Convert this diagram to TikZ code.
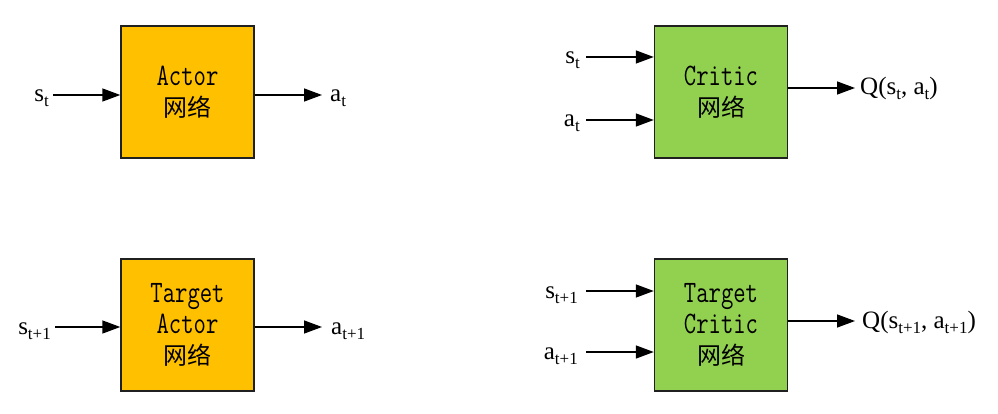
\documentclass[tikz,border=0pt]{standalone}
\usepackage{fontspec}
\usepackage{graphicx}
\setmainfont{Liberation Serif}
\newfontfamily\cjkfont{Noto Sans CJK SC}
\usetikzlibrary{arrows.meta}
\definecolor{actorfill}{HTML}{FFC000}
\definecolor{criticfill}{HTML}{92D050}
\definecolor{boxline}{HTML}{202020}
\newcommand\sbs[1]{\raisebox{-5pt}{\fontsize{17}{17}\selectfont #1}}
\newcommand\netlbl[1]{\scalebox{1}[1.3]{\ttfamily #1}}
\newcommand\cn[1]{{\cjkfont #1}}
\tikzset{
  netbox/.style={draw=boxline, line width=1.4pt, minimum width=133pt, minimum height=132pt,
    inner sep=0pt, align=center, font=\fontsize{24}{31}\selectfont},
  arr/.style={line width=1.4pt, -{Triangle[length=18pt,width=13pt]}},
  lblin/.style={anchor=base east, inner sep=0pt, font=\fontsize{25}{25}\selectfont},
  lblout/.style={anchor=base west, inner sep=0pt, font=\fontsize{25}{25}\selectfont},
}
\begin{document}
\begin{tikzpicture}[x=1pt,y=-1pt]
\useasboundingbox (0,0) rectangle (998,414);
% boxes
\node[netbox, fill=actorfill] (actor) at (187.5,92) {\netlbl{Actor}\\\cn{网络}};
\node[netbox, fill=actorfill] (tactor) at (187.5,325) {\netlbl{Target}\\\netlbl{Actor}\\\cn{网络}};
\node[netbox, fill=criticfill] (critic) at (721,92) {\netlbl{Critic}\\\cn{网络}};
\node[netbox, fill=criticfill] (tcritic) at (721,325) {\netlbl{Target}\\\netlbl{Critic}\\\cn{网络}};
% actor
\coordinate (a1in) at (53,95);
\coordinate (a1out) at (322,95);
\node[lblin] (a1s) at (49,102) {s\sbs{t}};
\draw[arr] (a1in) -- (actor.west |- a1in);
\draw[arr] (actor.east |- a1out) -- (a1out);
\node[lblout] (a1a) at (330,102) {a\sbs{t}};
% target actor
\coordinate (a2in) at (55,327);
\coordinate (a2out) at (322,327);
\node[lblin] (a2s) at (51,334) {s\sbs{t+1}};
\draw[arr] (a2in) -- (tactor.west |- a2in);
\draw[arr] (tactor.east |- a2out) -- (a2out);
\node[lblout] (a2a) at (331,334) {a\sbs{t+1}};
% critic
\coordinate (c1ins) at (586,57);
\coordinate (c1ina) at (586,120);
\coordinate (c1out) at (855,88);
\node[lblin] (c1s) at (580,64) {s\sbs{t}};
\node[lblin] (c1a) at (580,127) {a\sbs{t}};
\draw[arr] (c1ins) -- (critic.west |- c1ins);
\draw[arr] (c1ina) -- (critic.west |- c1ina);
\draw[arr] (critic.east |- c1out) -- (c1out);
\node[lblout] (c1q) at (860,95) {Q(s\sbs{t}, a\sbs{t})};
% target critic
\coordinate (c2ins) at (586,291);
\coordinate (c2ina) at (586,352);
\coordinate (c2out) at (855,321);
\node[lblin] (c2s) at (578,298) {s\sbs{t+1}};
\node[lblin] (c2a) at (578,359) {a\sbs{t+1}};
\draw[arr] (c2ins) -- (tcritic.west |- c2ins);
\draw[arr] (c2ina) -- (tcritic.west |- c2ina);
\draw[arr] (tcritic.east |- c2out) -- (c2out);
\node[lblout] (c2q) at (862,328) {Q(s\sbs{t+1}, a\sbs{t+1})};
\end{tikzpicture}
\end{document}
